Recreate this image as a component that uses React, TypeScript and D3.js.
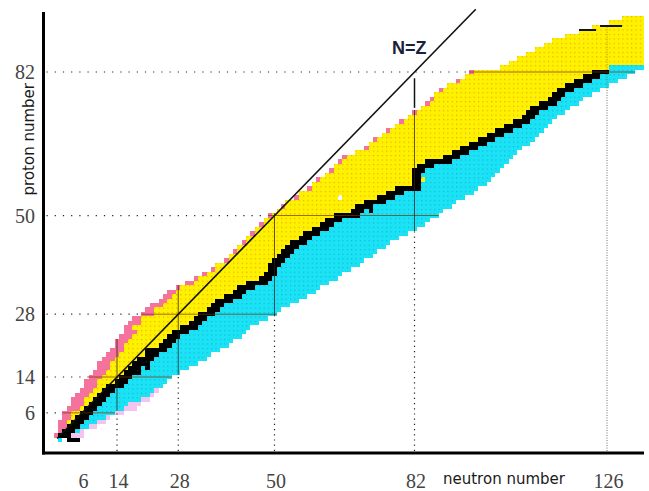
import React from 'react';
import * as d3 from 'd3';

// ---- data (index i -> proton number Z = i + 1) ----
const X_TICKS = [6, 14, 28, 50, 82, 126];
const Y_TICKS = [6, 14, 28, 50, 82];
const MAGIC_Z = [6, 14, 28, 50, 82];
const MAGIC_N = [14, 28, 50, 82, 126];

// lightest known neutron number per Z
const MIN_N = [
  0, 1, 1, 1, 2, 2, 3, 4, 4, 5,
  6, 7, 7, 8, 9, 10, 10, 11, 12, 13,
  14, 14, 15, 16, 16, 17, 18, 20, 21, 22,
  24, 25, 26, 28, 30, 32, 34, 36, 37, 39,
  40, 41, 42, 43, 44, 45, 46, 47, 48, 49,
  51, 52, 53, 55, 56, 58, 59, 60, 62, 63,
  64, 65, 66, 69, 71, 72, 73, 75, 76, 78,
  79, 81, 82, 84, 85, 86, 87, 88, 90, 92,
  94, 95, 102, 104, 106, 108, 110, 112, 114, 117,
  120, 123, 127, 130,
];
// heaviest known neutron number per Z (clipped at chart edge)
const MAX_N = [
  3, 5, 7, 9, 11, 13, 15, 16, 19, 21,
  22, 24, 25, 26, 28, 30, 32, 34, 35, 37,
  39, 40, 42, 43, 44, 46, 48, 50, 51, 53,
  55, 57, 59, 60, 62, 64, 65, 67, 69, 70,
  72, 73, 75, 76, 78, 80, 82, 84, 85, 87,
  88, 90, 91, 93, 95, 96, 98, 99, 100, 101,
  102, 103, 104, 105, 106, 108, 109, 110, 111, 112,
  113, 114, 116, 117, 119, 120, 122, 124, 126, 128,
  130, 132, 134, 134, 134, 134, 134, 134, 134, 134,
  134, 134, 134, 134,
];
// start of the black (stability) staircase per Z, Z = 1..82
const BLACK_START = [
  1, 2, 3, 4, 5, 6, 7, 8, 9, 10,
  11, 12, 14, 15, 16, 17, 18, 19, 21, 22,
  24, 25, 26, 27, 29, 31, 32, 33, 35, 36,
  37, 39, 41, 42, 44, 47, 48, 49, 49, 50,
  51, 52, 53, 54, 56, 57, 59, 61, 62, 64,
  68, 69, 71, 74, 76, 78, 82, 82, 82, 82,
  83, 85, 89, 91, 93, 95, 97, 99, 101, 103,
  105, 107, 108, 109, 111, 113, 114, 115, 117, 119,
  121, 123,
];
const PINK_COUNT = [
  1, 1, 2, 2, 2, 2, 3, 3, 3, 3,
  3, 3, 3, 3, 3, 3, 3, 3, 3, 3,
  2, 3, 3, 3, 2, 3, 2, 3, 2, 3,
  2, 2, 2, 1, 2, 1, 1, 1, 0, 1,
  0, 1, 0, 1, 0, 1, 0, 1, 0, 1,
  0, 1, 0, 1, 0, 1, 0, 1, 0, 1,
  0, 1, 1, 0, 1, 0, 1, 0, 1, 0,
  1, 0, 1, 0, 1, 1, 0, 1, 0, 1,
  0, 1, 0, 0, 0, 0, 0, 0, 0, 0,
  0, 0, 0, 0,
];
const LAVENDER_COUNT = [3, 1, 2, 2, 1, 2, 3, 3, 2, 1, 1, 0];
const CYAN_ONLY = [[83, 127]];
const EXTRA_BLACK = [[0, 3], [0, 4], [0, 5], [15, 19], [16, 19], [16, 21], [17, 21], [18, 21], [19, 21], [20, 21], [51, 72], [52, 72]];
const EXTRA_CYAN = [[0, 1]];
const WHITE_HOLES = [[54, 65]];
const YELLOW_SPOTS = [[58, 84]];
const TOP_MARKS = [[91, 120, 123], [92, 125, 129]];
const N82_STEM = [74, 80.6];

const YELLOW = '#fff200';
const CYAN = '#1be3f6';
const PINK = '#f4729b';
const LAVENDER = '#f3c4ee';

export default function App() {
  const W = 649, H = 491;
  const x = d3.scaleLinear().domain([14, 126]).range([117, 607]);
  const y = d3.scaleLinear().domain([14, 82]).range([377, 72]);
  const cw = x(1) - x(0);
  const ch = y(0) - y(1);
  const axisX = 43.5, axisY = 453;

  type Run = { z: number; a: number; b: number; fill: string; kind: string };
  const runs: Run[] = [];
  MIN_N.forEach((minN, i) => {
    const z = i + 1;
    const maxN = MAX_N[i];
    const p = PINK_COUNT[i];
    let yellowEnd: number, cyanStart: number;
    if (i < BLACK_START.length) {
      const bs = BLACK_START[i];
      const be = i + 1 < BLACK_START.length ? Math.max(bs + 1, BLACK_START[i + 1] + 1) : bs + 3;
      yellowEnd = bs - 1;
      cyanStart = be + 1;
      runs.push({ z, a: bs, b: Math.min(be, maxN), fill: '#000', kind: 'k' });
    } else {
      const co = CYAN_ONLY.find((c) => c[0] === z);
      cyanStart = co ? co[1] : maxN + 1;
      yellowEnd = cyanStart - 1;
    }
    if (p > 0) runs.push({ z, a: minN, b: minN + p - 1, fill: PINK, kind: 'p' });
    if (yellowEnd >= minN + p) runs.push({ z, a: minN + p, b: yellowEnd, fill: YELLOW, kind: 'y' });
    if (maxN >= cyanStart) runs.push({ z, a: cyanStart, b: maxN, fill: CYAN, kind: 'c' });
    const lav = LAVENDER_COUNT[i] || 0;
    if (lav > 0) runs.push({ z, a: maxN + 1, b: maxN + lav, fill: LAVENDER, kind: 'l' });
  });
  EXTRA_CYAN.forEach(([z, n]) => runs.push({ z, a: n, b: n, fill: CYAN, kind: 'c' }));
  WHITE_HOLES.forEach(([z, n]) => runs.push({ z, a: n, b: n, fill: '#fff', kind: 'w' }));
  YELLOW_SPOTS.forEach(([z, n]) => runs.push({ z, a: n, b: n, fill: YELLOW, kind: 'w' }));
  EXTRA_BLACK.forEach(([z, n]) => runs.push({ z, a: n, b: n, fill: '#000', kind: 'k' }));

  const rx = (a: number) => x(a) - cw / 2;
  const rw = (a: number, b: number) => (b - a + 1) * cw;
  const ry = (z: number) => y(z) - ch / 2;

  const ordered = [
    ...runs.filter((r) => r.kind !== 'k' && r.kind !== 'w'),
    ...runs.filter((r) => r.kind === 'w'),
    ...runs.filter((r) => r.kind === 'k'),
  ];

  // magic number lines
  const hLines = MAGIC_Z.map((z) => {
    const i = z - 1;
    return { z, left: rx(MIN_N[i]), right: rx(MAX_N[i]) + cw };
  });
  const vLines = MAGIC_N.map((n) => {
    const zs = MIN_N.map((m, i) => (m <= n && MAX_N[i] >= n ? i + 1 : -1)).filter((v) => v > 0);
    return { n, zLow: d3.min(zs) as number, zHigh: d3.max(zs) as number };
  });

  const serif = '"Liberation Serif", "DejaVu Serif", serif';
  const sans = '"DejaVu Sans", Verdana, sans-serif';

  return (
    <svg width={W} height={H} style={{ display: 'block', position: 'absolute', left: 0, top: 0, background: '#fff' }}>
      <defs>
        <pattern id="dotY" patternUnits="userSpaceOnUse" x={rx(0)} y={ry(0)} width={cw} height={ch}>
          <rect x={0} y={0} width={1.2} height={1.2} fill="#e07b00" opacity={0.6} />
        </pattern>
        <pattern id="dotC" patternUnits="userSpaceOnUse" x={rx(0)} y={ry(0)} width={cw} height={ch}>
          <rect x={0} y={0} width={1.2} height={1.2} fill="#1a86b8" opacity={0.55} />
        </pattern>
      </defs>
      <rect x={0} y={0} width={W} height={H} fill="#fff" />
      <g shapeRendering="crispEdges">
        {ordered.map((r, k) => (
          <rect key={k} x={rx(r.a)} y={ry(r.z)} width={rw(r.a, r.b)} height={ch} fill={r.fill} />
        ))}
        {runs.filter((r) => r.kind === 'y' || r.kind === 'c').map((r, k) => (
          <rect key={'t' + k} x={rx(r.a)} y={ry(r.z)} width={rw(r.a, r.b)} height={ch}
            fill={r.kind === 'y' ? 'url(#dotY)' : 'url(#dotC)'} />
        ))}
        {TOP_MARKS.map(([z, a, b], k) => (
          <rect key={'m' + k} x={rx(a)} y={ry(z)} width={rw(a, b)} height={2} fill="#111" />
        ))}
      </g>

      {/* magic-number horizontal lines */}
      {hLines.map((l) => (
        <g key={'h' + l.z}>
          <line x1={axisX + 3} x2={l.left} y1={y(l.z)} y2={y(l.z)} stroke="#222" strokeWidth={1.2} strokeDasharray="1.2 7" />
          <line x1={l.left} x2={l.right} y1={y(l.z)} y2={y(l.z)} stroke="rgba(120,50,0,0.7)" strokeWidth={1} />
        </g>
      ))}
      {/* magic-number vertical lines */}
      {vLines.map((l) => (
        <g key={'v' + l.n}>
          <line x1={x(l.n)} x2={x(l.n)} y1={axisY - 2} y2={y(l.zLow) + ch / 2}
            stroke={l.n === 126 ? '#888' : '#222'} strokeWidth={1.2} strokeDasharray={l.n === 126 ? '1 1.5' : '1.2 4'} />
          <line x1={x(l.n)} x2={x(l.n)} y1={y(l.zLow) + ch / 2} y2={y(l.zHigh) - ch / 2}
            stroke={l.n === 126 ? 'rgba(110,60,0,0.6)' : 'rgba(40,30,20,0.75)'} strokeWidth={1}
            strokeDasharray={l.n === 126 ? '1 1.5' : undefined} />
        </g>
      ))}
      <line x1={x(82)} x2={x(82)} y1={y(N82_STEM[0])} y2={y(N82_STEM[1])} stroke="#111" strokeWidth={1.5} />

      {/* N = Z line */}
      <line x1={x(0.3)} y1={y(0.3)} x2={x(96)} y2={y(96)} stroke="#111" strokeWidth={1.6} />
      <text x={392} y={54} fontFamily='"Liberation Sans", Arial, sans-serif' fontWeight="bold" fontSize={18} fill="#1b2138">N=Z</text>

      {/* axes */}
      <line x1={axisX} x2={axisX} y1={12} y2={axisY + 1.5} stroke="#000" strokeWidth={3} />
      <line x1={axisX - 1.5} x2={644} y1={axisY} y2={axisY} stroke="#000" strokeWidth={3} />

      {Y_TICKS.map((t) => (
        <text key={'yt' + t} x={35} y={y(t)} dy="0.36em" textAnchor="end" fontFamily={serif} fontSize={20} fill="#444">{t}</text>
      ))}
      {X_TICKS.map((t) => (
        <text key={'xt' + t} x={x(t) + 1.5} y={488} textAnchor="middle" fontFamily={serif} fontSize={20} fill="#444">{t}</text>
      ))}
      <text x={443} y={484} fontFamily={sans} fontSize={15} fill="#1a1a1a">neutron number</text>
      <text transform="translate(34,83) rotate(-90)" textAnchor="end" fontFamily={sans} fontSize={15} fill="#1a1a1a">proton number</text>
    </svg>
  );
}
